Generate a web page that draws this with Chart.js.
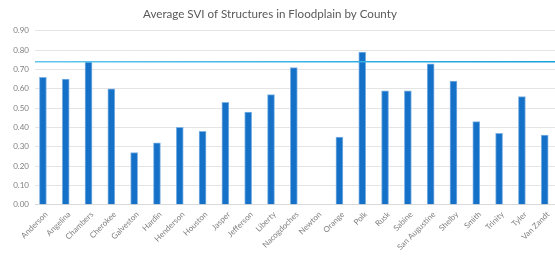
<!DOCTYPE html>
<html>
<head>
<meta charset="utf-8">
<script src="https://cdn.jsdelivr.net/npm/chart.js@4"></script>
<style>
  html, body { margin: 0; padding: 0; background: #fff; overflow: hidden; }
  #wrap { width: 560px; height: 259px; }
</style>
</head>
<body>
<div id="wrap"><canvas id="sviChart"></canvas></div>
<script>
const counties = ['Anderson', 'Angelina', 'Chambers', 'Cherokee', 'Galveston', 'Hardin',
  'Henderson', 'Houston', 'Jasper', 'Jefferson', 'Liberty', 'Nacogdoches', 'Newton',
  'Orange', 'Polk', 'Rusk', 'Sabine', 'San Augustine', 'Shelby', 'Smith', 'Trinity',
  'Tyler', 'Van Zandt'];
const avgSvi = [0.66, 0.65, 0.74, 0.60, 0.27, 0.32, 0.40, 0.38, 0.53, 0.48, 0.57, 0.71,
  0.00, 0.35, 0.79, 0.59, 0.59, 0.73, 0.64, 0.43, 0.37, 0.56, 0.36];
const overallAvg = 0.74;
const yTicks = [0, 0.1, 0.2, 0.3, 0.4, 0.5, 0.6, 0.7, 0.8, 0.9];

const ctx = document.getElementById('sviChart').getContext('2d');
const lineGrad = ctx.createLinearGradient(35, 0, 560, 0);
lineGrad.addColorStop(0, '#62c6ee');
lineGrad.addColorStop(1, '#14a0dc');

new Chart(ctx, {
  type: 'bar',
  data: {
    labels: counties,
    datasets: [{
      label: 'Average SVI',
      data: avgSvi,
      backgroundColor: '#1570c8',
      borderColor: '#7fb3e4',
      borderWidth: { left: 1, right: 1, top: 1, bottom: 0 },
      borderSkipped: 'bottom',
      barThickness: 7,
      order: 1
    }, {
      type: 'line',
      label: 'Average',
      data: [{ x: 0, y: overallAvg }, { x: 1, y: overallAvg }],
      xAxisID: 'xLine',
      borderColor: lineGrad,
      borderWidth: 1.5,
      pointRadius: 0,
      order: 0
    }]
  },
  options: {
    responsive: true,
    maintainAspectRatio: false,
    animation: false,
    // negative left padding pulls the title centre left like the original
    layout: { padding: { left: -20, right: 0, top: 0, bottom: 2 } },
    plugins: {
      legend: { display: false },
      tooltip: { enabled: false },
      title: {
        display: true,
        text: 'Average SVI of Structures in Floodplain by County',
        color: '#595959',
        font: { family: 'Lato', size: 11.6, weight: 'normal' },
        padding: { top: 7, bottom: 10 }
      }
    },
    scales: {
      x: {
        grid: { display: false, drawTicks: false },
        border: { color: '#d9d9d9' },
        ticks: {
          color: '#7f7f7f',
          font: { family: 'Lato', size: 8 },
          minRotation: 45,
          maxRotation: 45,
          autoSkip: false,
          padding: 5
        }
      },
      xLine: {
        type: 'linear',
        display: false,
        offset: false,
        min: 0,
        max: 1
      },
      y: {
        min: 0,
        max: 0.9,
        afterBuildTicks: function(axis) {
          axis.ticks = yTicks.map(function(v) { return { value: v }; });
        },
        afterFit: function(axis) { axis.width = 55; },
        grid: { color: '#e4e4e4', drawTicks: false },
        border: { display: false },
        ticks: {
          color: '#7f7f7f',
          font: { family: 'Lato', size: 8 },
          padding: 6,
          callback: function(v) { return v.toFixed(2); }
        }
      }
    }
  }
});
</script>
</body>
</html>
